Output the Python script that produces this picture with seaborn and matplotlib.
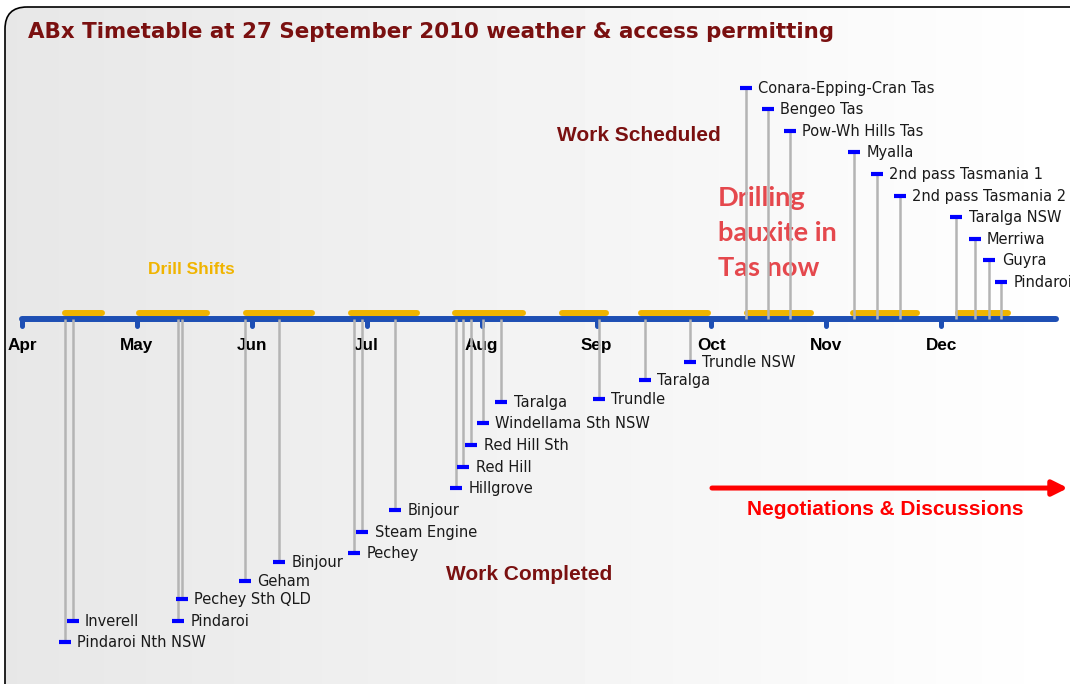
import numpy as np
import pandas as pd
import seaborn as sns
import matplotlib.pyplot as plt
from matplotlib.patches import FancyBboxPatch

# Month axis (Apr = 0, one unit per month)
months = ['Apr', 'May', 'Jun', 'Jul', 'Aug', 'Sep', 'Oct', 'Nov', 'Dec']

# Work completed (below the axis)
completed_sites = ['Pindaroi Nth NSW', 'Inverell', 'Pindaroi', 'Pechey Sth QLD', 'Geham',
                   'Binjour', 'Pechey', 'Steam Engine', 'Binjour', 'Hillgrove', 'Red Hill',
                   'Red Hill Sth', 'Windellama Sth NSW', 'Taralga', 'Trundle', 'Taralga',
                   'Trundle NSW']
completed_pos = [0.37, 0.44, 1.36, 1.39, 1.94, 2.24, 2.89, 2.96, 3.25, 3.78, 3.84,
                 3.91, 4.01, 4.17, 5.02, 5.42, 5.81]
completed_level = [-14.95, -13.98, -13.98, -12.96, -12.13, -11.25, -10.83, -9.86, -8.84,
                   -7.82, -6.85, -5.83, -4.81, -3.84, -3.70, -2.82, -1.99]

# Work scheduled (above the axis)
scheduled_sites = ['Conara-Epping-Cran Tas', 'Bengeo Tas', 'Pow-Wh Hills Tas', 'Myalla',
                   '2nd pass Tasmania 1', '2nd pass Tasmania 2', 'Taralga NSW', 'Merriwa',
                   'Guyra', 'Pindaroi']
scheduled_pos = [6.30, 6.49, 6.68, 7.24, 7.44, 7.64, 8.13, 8.29, 8.42, 8.52]
scheduled_level = [10.69, 9.72, 8.70, 7.73, 6.71, 5.69, 4.72, 3.70, 2.73, 1.71]

# Drill shifts (start, end in months)
shift_start = [0.37, 1.02, 1.95, 2.86, 3.77, 4.70, 5.39, 6.31, 7.23, 8.15]
shift_end = [0.70, 1.61, 2.52, 3.44, 4.36, 5.08, 5.97, 6.87, 7.79, 8.58]

BLUE_AXIS = '#1E4FB4'
STEM = '#B4B4B4'
DARK_RED = '#7A1010'


def draw_background(fig):
    bg = fig.add_axes([0, 0, 1, 1], zorder=0)
    bg.axis('off')
    box = FancyBboxPatch((5, 7), 1100, 720, boxstyle='round,pad=0,rounding_size=22',
                         fc='none', ec='black', lw=1.2, zorder=2)
    bg.add_patch(box)
    grad = np.tile(np.linspace(0.905, 1.0, 256), (2, 1))
    img = bg.imshow(grad, extent=(0, 1070, 684, 0), cmap='gray', vmin=0, vmax=1,
                    aspect='auto', zorder=1)
    img.set_clip_path(box)
    bg.set_xlim(0, 1070)
    bg.set_ylim(684, 0)


def plot_timeline():
    sns.set_style('white')
    fig = plt.figure(figsize=(10.7, 6.84), dpi=100)
    draw_background(fig)

    ax = fig.add_axes([0, 0, 1, 1], zorder=1)
    ax.patch.set_visible(False)
    ax.axis('off')
    ax.set_xlim(-22 / 114.9, 1048 / 114.9)
    ax.set_ylim(-365 / 21.6, 319 / 21.6)

    done = pd.DataFrame({'site': completed_sites, 'month': completed_pos,
                         'level': completed_level})
    todo = pd.DataFrame({'site': scheduled_sites, 'month': scheduled_pos,
                         'level': scheduled_level})
    events = pd.concat([done, todo], ignore_index=True)

    # drill shifts
    ax.hlines([0.3] * len(shift_start), shift_start, shift_end, color='#F0B400',
              lw=4.3, capstyle='round', zorder=2)

    # main time axis and month ticks
    tick_pos = np.arange(len(months))
    ax.hlines(0, 0, len(months), color=BLUE_AXIS, lw=4.3, capstyle='round', zorder=3)
    ax.vlines(tick_pos, 0, -0.32, color=BLUE_AXIS, lw=3.6, capstyle='round', zorder=3)
    for m, name in zip(tick_pos, months):
        ax.text(m, -1.25, name, ha='center', va='center', fontsize=12.3,
                fontweight='bold', family='Liberation Sans', color='black')

    # stems and markers
    ax.vlines(events['month'], 0, events['level'], color=STEM, lw=1.8, zorder=4)
    sns.scatterplot(data=events, x='month', y='level', marker='_', s=80,
                    linewidth=3, color='#0000FF', zorder=5, ax=ax, legend=False)
    for _, r in events.iterrows():
        ax.annotate(r['site'], (r['month'], r['level']), xytext=(9, -0.5),
                    textcoords='offset points', va='center', ha='left',
                    fontsize=10.5, family='DejaVu Sans', color='#1a1a1a')

    ax.set_xlabel('')
    ax.set_ylabel('')

    # annotations
    ax.text(0.026, 0.953, 'ABx Timetable at 27 September 2010 weather & access permitting',
            transform=ax.transAxes, ha='left', va='center', fontsize=15.4,
            fontweight='bold', family='DejaVu Sans', color=DARK_RED)
    ax.text(0.5206, 0.8026, 'Work Scheduled', transform=ax.transAxes, ha='left',
            va='center', fontsize=15, fontweight='bold', family='Liberation Sans',
            color=DARK_RED)
    ax.text(0.4168, 0.1608, 'Work Completed', transform=ax.transAxes, ha='left',
            va='center', fontsize=15, fontweight='bold', family='Liberation Sans',
            color=DARK_RED)
    ax.text(0.1383, 0.6067, 'Drill Shifts', transform=ax.transAxes, ha='left',
            va='center', fontsize=12.4, fontweight='bold', family='Liberation Sans',
            color='#F0B400')
    ax.text(0.671, 0.6594, 'Drilling\nbauxite in\nTas now', transform=ax.transAxes,
            ha='left', va='center', fontsize=19.6, fontweight='bold', family='Lato',
            color='#E5484D', linespacing=1.55)
    ax.text(0.698, 0.2544, 'Negotiations & Discussions', transform=ax.transAxes,
            ha='left', va='center', fontsize=15, fontweight='bold',
            family='Liberation Sans', color='#FF0000')
    ax.annotate('', xy=(0.998, 0.2865), xytext=(0.6654, 0.2865),
                xycoords='axes fraction', textcoords='axes fraction',
                arrowprops=dict(arrowstyle='-|>,head_length=0.9,head_width=0.45',
                                color='#FF0000', lw=3.6, shrinkA=0, shrinkB=0))

    fig.savefig('out.png', dpi=100)


if __name__ == '__main__':
    plot_timeline()
